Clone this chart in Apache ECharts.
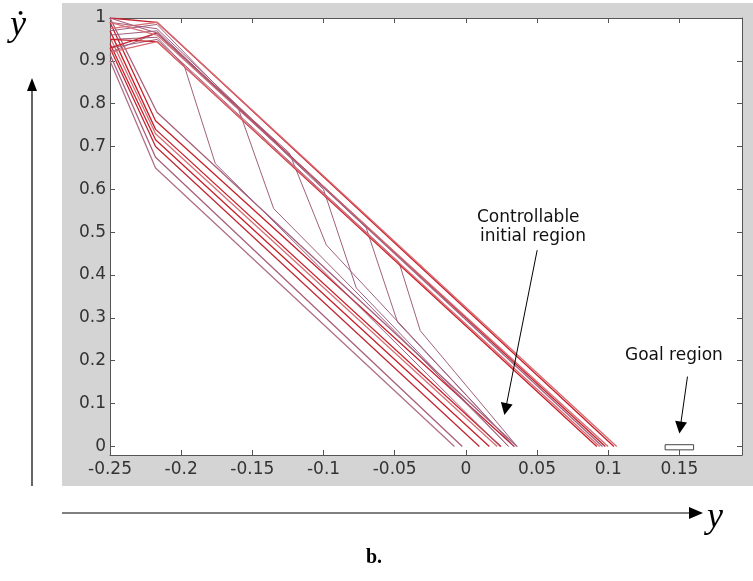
<!DOCTYPE html>
<html>
<head>
<meta charset="utf-8">
<script src="https://cdn.jsdelivr.net/npm/echarts@6/dist/echarts.min.js"></script>
<style>
  html, body { margin: 0; padding: 0; background: #fff; }
  #main { width: 753px; height: 581px; }
</style>
</head>
<body>
<div id="main"></div>
<script>
// tick positions
const xTicks = [-0.25, -0.2, -0.15, -0.1, -0.05, 0, 0.05, 0.1, 0.15];
const yTicks = [0, 0.1, 0.2, 0.3, 0.4, 0.5, 0.6, 0.7, 0.8, 0.9, 1];

// trajectories reaching y'=0 near y=0.1 (upper bundle)
const upperBundle = [
  [[-0.25, 1.0], [-0.217, 0.99], [0.104, 0]],
  [[-0.25, 0.975], [-0.217, 0.99], [0.106, 0]],
  [[-0.25, 0.93], [-0.217, 0.965], [0.098, 0]],
  [[-0.25, 0.99], [-0.217, 0.96], [0.1, 0]],
  [[-0.25, 0.95], [-0.217, 0.945], [0.092, 0]],
  [[-0.25, 0.92], [-0.217, 0.945], [0.094, 0]],
  [[-0.25, 1.0], [-0.217, 0.965], [0.096, 0]]
];
const upperColors = ['#c8202a', '#d86a72', '#c8202a', '#d47078', '#c8202a', '#d86a72', '#a8607c'];

// trajectories reaching y'=0 near y=0 (lower bundle)
const lowerBundle = [
  [[-0.25, 1.0], [-0.217, 0.78], [0.036, 0]],
  [[-0.25, 0.99], [-0.218, 0.76], [0.034, 0]],
  [[-0.25, 0.97], [-0.218, 0.74], [0.0247, 0]],
  [[-0.25, 0.955], [-0.218, 0.73], [0.022, 0]],
  [[-0.25, 0.94], [-0.218, 0.716], [0.0165, 0]],
  [[-0.25, 0.93], [-0.218, 0.70], [0.0095, 0]],
  [[-0.25, 0.915], [-0.218, 0.675], [-0.0025, 0]],
  [[-0.25, 0.90], [-0.218, 0.65], [-0.008, 0]]
];
const lowerColors = ['#a8607c', '#c8202a', '#c8202a', '#d47078', '#c8202a', '#c02a36', '#a8607c', '#b07088'];

// trajectories that switch from the upper to the lower bundle
const switchPaths = [
  [[-0.25, 0.95], [-0.217, 0.955], [-0.198, 0.89], [-0.176, 0.66], [0.024, 0]],
  [[-0.25, 0.97], [-0.217, 0.985], [-0.16, 0.79], [-0.135, 0.555], [0.03, 0]],
  [[-0.25, 0.92], [-0.217, 0.965], [-0.124, 0.685], [-0.098, 0.47], [0.034, 0]],
  [[-0.25, 0.96], [-0.217, 0.97], [-0.1, 0.60], [-0.077, 0.37], [0.03, 0]],
  [[-0.25, 0.99], [-0.217, 0.975], [-0.07, 0.51], [-0.048, 0.29], [0.034, 0]],
  [[-0.25, 0.93], [-0.217, 0.95], [-0.047, 0.43], [-0.032, 0.27], [0.036, 0]]
];

const goalBox = [[0.14, -0.008], [0.16, -0.008], [0.16, 0.004], [0.14, 0.004], [0.14, -0.008]];
const controllableArrow = [[0.0501, 0.458], [0.0279, 0.087]];
const goalArrow = [[0.1557, 0.163], [0.1506, 0.044]];

const fmt = v => String(+v.toFixed(2));
const axisColor = '#555';

const series = [];
function addPaths(paths, colors, width) {
  paths.forEach((p, i) => {
    series.push({
      type: 'line', data: p, showSymbol: false, silent: true,
      lineStyle: { color: colors[i % colors.length], width: width }
    });
  });
}
addPaths(lowerBundle, lowerColors, 1.3);
addPaths(switchPaths, ['#a0607e'], 1);
addPaths(upperBundle, upperColors, 1.3);

series.push({
  type: 'line', data: goalBox, showSymbol: false, silent: true,
  lineStyle: { color: '#444', width: 1 },
  markLine: {
    silent: true, animation: false,
    symbol: ['none', 'triangle'], symbolSize: 12,
    lineStyle: { color: '#000', width: 1, type: 'solid' },
    itemStyle: { color: '#000' },
    label: { show: false },
    data: [
      [{ coord: controllableArrow[0] }, { coord: controllableArrow[1] }],
      [{ coord: goalArrow[0] }, { coord: goalArrow[1] }]
    ]
  }
});

const tickStyle = { color: axisColor, width: 1 };
const labelFont = { fontSize: 17, fontFamily: 'DejaVu Sans', color: '#333' };

const myChart = echarts.init(document.getElementById('main'));
const option = {
  animation: false,
  backgroundColor: '#fff',
  grid: { left: 110, top: 18, right: 11, bottom: 126, show: true, backgroundColor: '#fff', borderWidth: 0 },
  xAxis: [
    {
      type: 'value', min: -0.25, max: 0.194, position: 'bottom',
      axisLine: { show: true, onZero: false, lineStyle: tickStyle },
      axisTick: { show: true, inside: true, length: 5, customValues: xTicks, lineStyle: tickStyle },
      axisLabel: Object.assign({ customValues: xTicks, formatter: fmt, margin: 6 }, labelFont),
      splitLine: { show: false }
    },
    {
      type: 'value', min: -0.25, max: 0.194, position: 'top',
      axisLine: { show: true, onZero: false, lineStyle: tickStyle },
      axisTick: { show: true, inside: true, length: 5, customValues: xTicks, lineStyle: tickStyle },
      axisLabel: { show: false },
      splitLine: { show: false }
    }
  ],
  yAxis: [
    {
      type: 'value', min: -0.02, max: 1, position: 'left',
      axisLine: { show: true, onZero: false, lineStyle: tickStyle },
      axisTick: { show: true, inside: true, length: 5, customValues: yTicks, lineStyle: tickStyle },
      axisLabel: Object.assign({ customValues: yTicks, formatter: fmt, margin: 4 }, labelFont),
      splitLine: { show: false }
    },
    {
      type: 'value', min: -0.02, max: 1, position: 'right',
      axisLine: { show: true, onZero: false, lineStyle: tickStyle },
      axisTick: { show: true, inside: true, length: 5, customValues: yTicks, lineStyle: tickStyle },
      axisLabel: { show: false },
      splitLine: { show: false }
    }
  ],
  graphic: [
    { type: 'rect', z: -100, silent: true, shape: { x: 62, y: 3, width: 691, height: 483 }, style: { fill: '#d4d4d4' } },
    { type: 'text', left: 477, top: 209, style: { text: 'Controllable', font: '17px "DejaVu Sans"', fill: '#111' } },
    { type: 'text', left: 480, top: 228, style: { text: 'initial region', font: '17px "DejaVu Sans"', fill: '#111' } },
    { type: 'text', left: 625, top: 347, style: { text: 'Goal region', font: '17px "DejaVu Sans"', fill: '#111' } },
    // phase plane arrows outside the plot
    { type: 'line', shape: { x1: 32, y1: 486, x2: 32, y2: 88 }, style: { stroke: '#000', lineWidth: 1.2 } },
    { type: 'polygon', shape: { points: [[32, 78], [27, 91], [37, 91]] }, style: { fill: '#000' } },
    { type: 'line', shape: { x1: 62, y1: 513, x2: 690, y2: 513 }, style: { stroke: '#555', lineWidth: 1.5 } },
    { type: 'polygon', shape: { points: [[703, 513], [689, 507], [689, 519]] }, style: { fill: '#000' } },
    { type: 'text', left: 10, top: 8, style: { text: 'ẏ', font: 'italic 36px "Liberation Serif", "DejaVu Serif"', fill: '#000' } },
    { type: 'text', left: 707, top: 500, style: { text: 'y', font: 'italic 36px "Liberation Serif", "DejaVu Serif"', fill: '#000' } },
    { type: 'text', left: 366, top: 548, style: { text: 'b.', font: 'bold 20px "Liberation Serif", "DejaVu Serif"', fill: '#000' } }
  ],
  series: series
};
myChart.setOption(option);
</script>
</body>
</html>
